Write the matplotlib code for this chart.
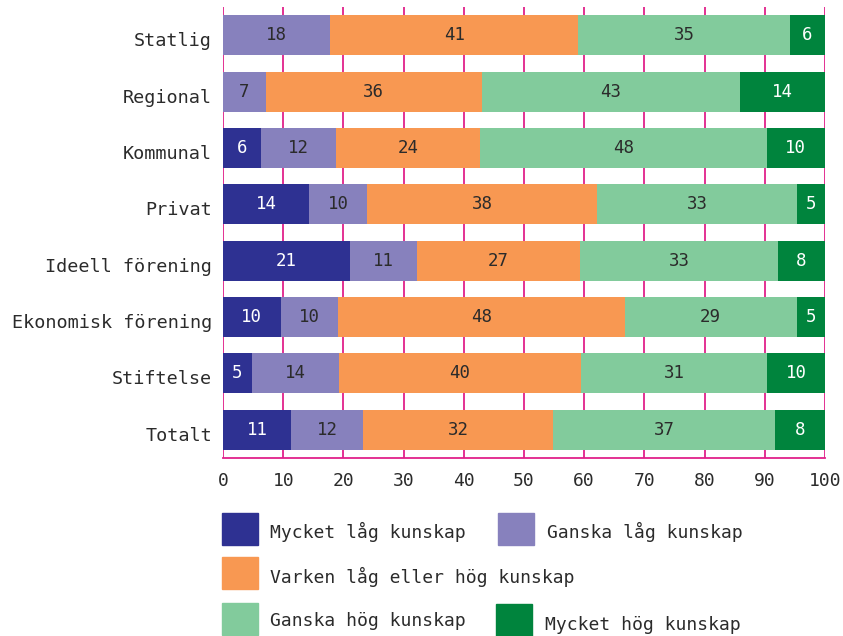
import matplotlib
matplotlib.use("Agg")
import matplotlib.pyplot as plt
from matplotlib.patches import Rectangle
from matplotlib.transforms import ScaledTranslation

categories = ["Statlig", "Regional", "Kommunal", "Privat", "Ideell förening",
              "Ekonomisk förening", "Stiftelse", "Totalt"]
series_names = ["Mycket låg kunskap", "Ganska låg kunskap",
                "Varken låg eller hög kunskap", "Ganska hög kunskap",
                "Mycket hög kunskap"]
mycket_lag = [0, 0, 6.3, 14.3, 21.1, 9.6, 4.8, 11.3]
ganska_lag = [17.8, 7.1, 12.4, 9.6, 11.1, 9.5, 14.4, 12.0]
varken = [41.2, 35.9, 24.0, 38.3, 27.1, 47.6, 40.2, 31.6]
ganska_hog = [35.2, 42.9, 47.6, 33.1, 32.9, 28.6, 31.0, 36.8]
mycket_hog = [5.8, 14.1, 9.7, 4.7, 7.8, 4.7, 9.6, 8.3]
x_ticks = [0, 10, 20, 30, 40, 50, 60, 70, 80, 90, 100]

series = [mycket_lag, ganska_lag, varken, ganska_hog, mycket_hog]
colors = ["#2e3192", "#8781bd", "#f89852", "#82cb9c", "#00843d"]
text_colors = ["white", "#2b2b2b", "#2b2b2b", "#2b2b2b", "white"]
grid_color = "#e0218a"
font = "DejaVu Sans Mono"
plt.rcParams["font.family"] = [font]

fig = plt.figure(figsize=(8.43, 6.36), dpi=100)
W, H = 843, 636
ax = fig.add_axes([223 / W, 1 - 458 / H, (825 - 223) / W, (458 - 7) / H])

ypos = list(range(len(categories)))
left = [0.0] * len(categories)
for vals, col, tcol in zip(series, colors, text_colors):
    ax.barh(ypos, vals, left=left, height=0.71, color=col, zorder=3)
    for i, (v, l) in enumerate(zip(vals, left)):
        if v >= 1:
            ax.text(l + v / 2, i, f"{round(v)}", ha="center", va="center",
                    color=tcol, fontsize=12.5, zorder=4, family=font)
    left = [a + b for a, b in zip(left, vals)]

ax.set_xlim(0, 100)
ax.set_ylim(len(categories) - 0.5, -0.5)
ax.set_xticks(x_ticks)
ax.set_xticklabels([str(t) for t in x_ticks], fontsize=13, color="#2b2b2b")
ax.set_yticks(ypos)
ax.set_yticklabels(categories, fontsize=13.3, color="#2b2b2b")
ax.tick_params(axis="y", length=0, pad=8)
ax.tick_params(axis="x", length=0, pad=10)
shift = ScaledTranslation(0, -4 / 100, fig.dpi_scale_trans)
for lab in ax.get_yticklabels():
    lab.set_transform(lab.get_transform() + shift)
for t in x_ticks:
    ax.axvline(t, color=grid_color, lw=1.3, zorder=1)
for s in ["top", "right", "left"]:
    ax.spines[s].set_visible(False)
ax.spines["bottom"].set_color(grid_color)
ax.spines["bottom"].set_linewidth(1.3)

# legend
legend_items = [
    (0, 222, 513, 532, 270), (1, 498, 513, 532, 547),
    (2, 222, 557, 577, 270),
    (3, 222, 603, 621, 270), (4, 496, 604, 625, 545),
]
for idx, x0, y0, ty, tx in legend_items:
    fig.add_artist(Rectangle((x0 / W, 1 - (y0 + 32) / H), 36 / W, 32 / H,
                             transform=fig.transFigure, color=colors[idx]))
    fig.text(tx / W, 1 - ty / H, series_names[idx],
             fontsize=13, va="center", ha="left", color="#2b2b2b")

fig.savefig("out.png", dpi=100)
